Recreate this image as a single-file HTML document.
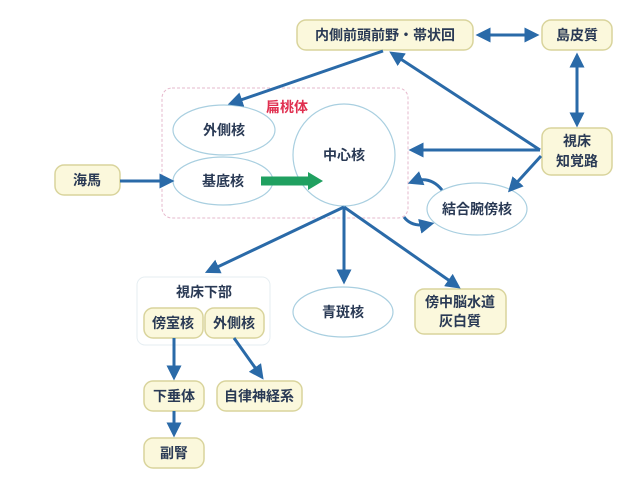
<!DOCTYPE html><html><head><meta charset="utf-8"><style>body{margin:0;background:#fff}svg{display:block}text{font-family:"Liberation Sans","Noto Sans CJK JP",sans-serif;font-weight:bold;fill:#2a3a55;font-size:14px;text-anchor:middle;dominant-baseline:central}.b{fill:#fbf8dc;stroke:#d9d49c;stroke-width:1.5}.e{fill:#fff;stroke:#a9cfe0;stroke-width:1.2}.a{stroke:#2a6aa8;stroke-width:3;fill:none;marker-end:url(#m)}.d{stroke:#2a6aa8;stroke-width:3;fill:none;marker-end:url(#m);marker-start:url(#s)}</style></head><body>
<svg width="640" height="482" viewBox="0 0 640 482"><defs><marker id="m" markerWidth="5" markerHeight="5" refX="3.5" refY="2.5" orient="auto" markerUnits="strokeWidth"><path d="M0,0L5,2.5L0,5z" fill="#2a6aa8"/></marker><marker id="s" markerWidth="5" markerHeight="5" refX="1.5" refY="2.5" orient="auto" markerUnits="strokeWidth"><path d="M5,0L0,2.5L5,5z" fill="#2a6aa8"/></marker></defs>
<rect x="162" y="88" width="246" height="130" rx="10" fill="#fff" stroke="#e6b8cc" stroke-dasharray="3,2"/>
<text x="287" y="107" style="fill:#e03050">扁桃体</text>
<ellipse class="e" cx="224" cy="130" rx="51" ry="25"/><text x="224" y="130">外側核</text>
<ellipse class="e" cx="223" cy="181" rx="50" ry="24"/><text x="223" y="181">基底核</text>
<circle class="e" cx="344" cy="155" r="51"/><text x="344" y="155">中心核</text>
<path d="M261,181H310" stroke="#20a060" stroke-width="9"/><path d="M308,172L323,181L308,190z" fill="#20a060"/>
<rect class="b" x="297" y="20" width="176" height="30" rx="9"/><text x="385" y="35">内側前頭前野・帯状回</text>
<rect class="b" x="542" y="20" width="70" height="30" rx="9"/><text x="577" y="35">島皮質</text>
<rect class="b" x="542" y="128" width="70" height="47" rx="9"/><text x="577" y="141">視床</text><text x="577" y="161">知覚路</text>
<rect class="b" x="55" y="165" width="65" height="30" rx="9"/><text x="87" y="180">海馬</text>
<ellipse class="e" cx="477" cy="209" rx="50" ry="26"/><text x="477" y="209">結合腕傍核</text>
<rect x="137" y="277" width="133" height="68" rx="8" fill="#fff" stroke="#e6eef2"/><text x="204" y="292">視床下部</text>
<rect class="b" x="144" y="308" width="59" height="30" rx="9"/><text x="173" y="323">傍室核</text>
<rect class="b" x="205" y="308" width="59" height="30" rx="9"/><text x="234" y="323">外側核</text>
<rect class="b" x="144" y="381" width="60" height="30" rx="9"/><text x="174" y="396">下垂体</text>
<rect class="b" x="217" y="381" width="85" height="30" rx="9"/><text x="259" y="396">自律神経系</text>
<rect class="b" x="144" y="438" width="60" height="30" rx="9"/><text x="174" y="453">副腎</text>
<ellipse class="e" cx="343" cy="312" rx="50" ry="25"/><text x="343" y="312">青斑核</text>
<rect class="b" x="415" y="289" width="91" height="45" rx="9"/><text x="460" y="302">傍中脳水道</text><text x="460" y="321">灰白質</text>
<path class="d" d="M480,35H535"/><path class="d" d="M577,57V123"/>
<path class="a" d="M383,51L232,103"/><path class="a" d="M540,150L393,54"/><path class="a" d="M540,150H413"/><path class="a" d="M541,156L511,189"/>
<path class="a" d="M442,190Q430,175 412,182"/><path class="a" d="M404,217Q412,228 430,224"/>
<path class="a" d="M120,181H170"/>
<path class="a" d="M344,207L209,271"/><path class="a" d="M344,207V280"/><path class="a" d="M344,207L457,286"/>
<path class="a" d="M174,338V376"/><path class="a" d="M174,411V433"/><path class="a" d="M234,338L261,376"/>
</svg></body></html>
